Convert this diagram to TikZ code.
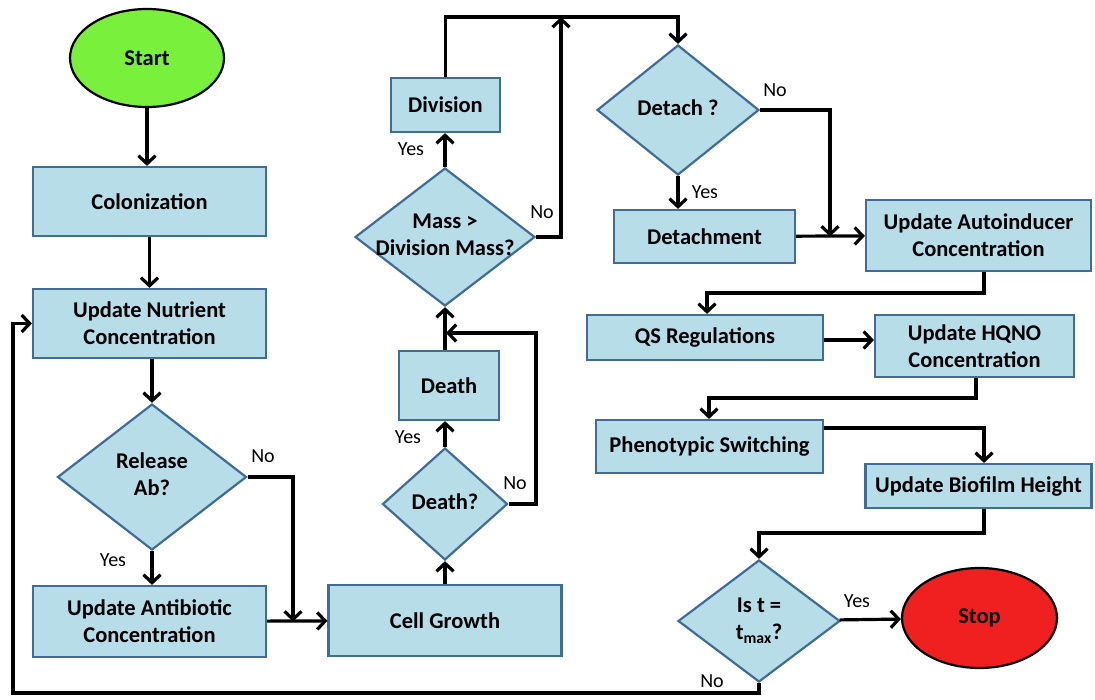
\documentclass[tikz,border=0pt]{standalone}
\usepackage{fontspec}
\setmainfont{Carlito}
\usetikzlibrary{shapes.geometric,arrows.meta}
\definecolor{boxfill}{RGB}{183,221,232}
\definecolor{boxline}{RGB}{65,108,150}
\definecolor{startgreen}{RGB}{120,240,60}
\definecolor{stopred}{RGB}{240,32,32}
\newcommand{\dtext}[1]{\makebox[0pt]{\begin{tabular}{@{}c@{}}#1\end{tabular}}}
\tikzset{
  base/.style={draw=boxline, line width=2.2pt, fill=boxfill, font=\fontsize{22.5}{27}\selectfont\bfseries, align=center, inner sep=0pt},
  procbox/.style={base, rectangle},
  decide/.style={base, diamond},
  term/.style={ellipse, draw=black, line width=2.2pt, font=\fontsize{22.5}{27}\selectfont\bfseries, inner sep=0pt},
  conn/.style={line width=3.2pt, -{Straight Barb[length=8pt,width=17pt]}},
  lbl/.style={font=\fontsize{20}{23}\selectfont, inner sep=0pt}
}
\begin{document}
\begin{tikzpicture}[x=1pt,y=-1pt]
\useasboundingbox (0,0) rectangle (1095,699);
% terminals
\node[term, fill=startgreen, minimum width=154, minimum height=98] (start) at (147,58) {Start};
\node[term, fill=stopred, minimum width=155, minimum height=100] (stop) at (979.5,618) {Stop};
% boxes
\node[procbox, minimum width=233, minimum height=69] (colon) at (149.5,201.5) {Colonization};
\node[procbox, minimum width=233, minimum height=69] (nutr) at (149.5,323.5) {Update Nutrient\\Concentration};
\node[procbox, minimum width=233, minimum height=71] (anti) at (149.5,621.5) {Update Antibiotic\\Concentration};
\node[procbox, minimum width=233, minimum height=71] (growth) at (445,620.5) {Cell Growth};
\node[procbox, minimum width=100, minimum height=69] (deathbox) at (449,385.5) {Death};
\node[procbox, minimum width=109, minimum height=54] (division) at (445.5,105) {Division};
\node[procbox, minimum width=181, minimum height=53] (detachment) at (704.5,236.5) {Detachment};
\node[procbox, minimum width=225, minimum height=71] (autoind) at (978.5,235.5) {Update Autoinducer\\Concentration};
\node[procbox, minimum width=236, minimum height=45] (qs) at (705,337.5) {QS Regulations};
\node[procbox, minimum width=199, minimum height=62] (hqno) at (974.5,346) {Update HQNO\\Concentration};
\node[procbox, minimum width=227, minimum height=53] (pheno) at (709.5,446.5) {Phenotypic Switching};
\node[procbox, minimum width=226, minimum height=44] (biofilm) at (978.5,486) {Update Biofilm Height};
% decisions
\node[decide, minimum width=189, minimum height=146] (release) at (152,477) {\dtext{Release\\Ab?}};
\node[decide, minimum width=125, minimum height=112] (deathq) at (445,504) {\dtext{Death?}};
\node[decide, minimum width=180, minimum height=138] (mass) at (445,237) {\dtext{Mass >\\Division Mass?}};
\node[decide, minimum width=162, minimum height=130] (detach) at (678,110) {\dtext{Detach ?}};
\node[decide, minimum width=162, minimum height=122] (ist) at (759,621) {\dtext{Is t =\\t\textsubscript{max}?}};
% junction coordinates
\coordinate (j1) at (293,621.5);
\coordinate (j2) at (446,333);
\coordinate (j3) at (561,17);
\coordinate (j4) at (830,236.5);
% connectors
\draw[conn] (start.south) -- (start.south |- colon.north);
\draw[conn] (colon.south) -- (nutr.north);
\draw[conn] (nutr.south -| release.north) -- (release.north);
\draw[conn] (release.south) -- (release.south |- anti.north);
\draw[conn] (release.east) -| (j1);
\draw[conn] (anti) -- (growth);
\draw[conn] (growth) -- (deathq);
\draw[conn] (deathq.north) -- (deathq.north |- deathbox.south);
\draw[conn] (deathq.east) -- (536,504) -- (536,333) -- (j2);
\draw[conn] (deathbox.north -| mass.south) -- (mass.south);
\draw[conn] (mass.north) -- (mass.north |- division.south);
\draw[conn] (mass.east) -| (j3);
\draw[conn] (division.north) -- (445.5,17) -| (detach.north);
\draw[conn] (detach) -- (detach.south |- detachment.north);
\draw[conn] (detach.east) -| (j4);
\draw[conn] (detachment) -- (autoind);
\draw[conn] (autoind.south -| 984,0) -- (984,293) -| (qs.north -| 707,0);
\draw[conn] (qs.east |- 0,340) -- (hqno.west |- 0,340);
\draw[conn] (hqno.south -| 976,0) -- (976,398) -| (pheno.north -| 709,0);
\draw[conn] (pheno.east |- 0,428) -| (biofilm.north -| 984,0);
\draw[conn] (biofilm.south -| 984,0) -- (984,533) -| (ist.north);
\draw[conn] (ist) -- (stop);
\draw[conn] (ist.south) -- (759,693) -- (13,693) |- (nutr.west);
% labels
\node[lbl] (l1) at (263,456) {No};
\node[lbl] (l2) at (113,560) {Yes};
\node[lbl] (l3) at (408,437) {Yes};
\node[lbl] (l4) at (515,483) {No};
\node[lbl] (l5) at (411,149) {Yes};
\node[lbl] (l6) at (542,212) {No};
\node[lbl] (l7) at (705,192) {Yes};
\node[lbl] (l8) at (775,90) {No};
\node[lbl] (l9) at (857,601) {Yes};
\node[lbl] (l10) at (712,681) {No};
\end{tikzpicture}
\end{document}
